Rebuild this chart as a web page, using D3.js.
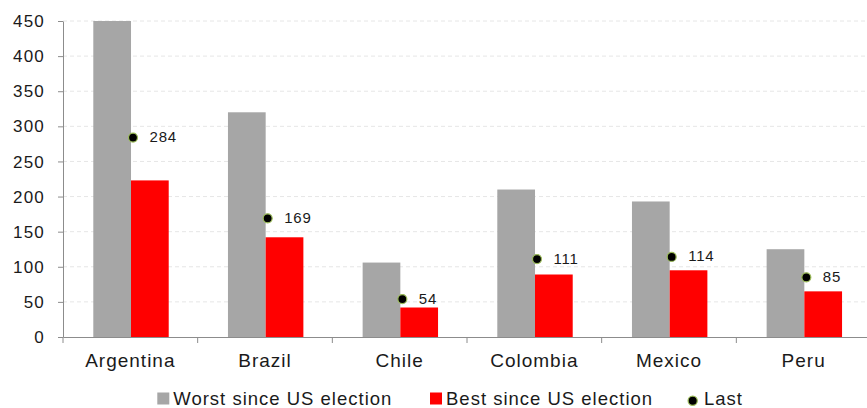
<!DOCTYPE html>
<html><head><meta charset="utf-8">
<script src="https://cdn.jsdelivr.net/npm/d3@7/dist/d3.min.js"></script>
<style>body{margin:0;background:#fff}svg{display:block}text{font-family:"Liberation Sans",Arial,sans-serif;fill:#1a1a1a}</style>
</head><body>
<svg id="c" width="867" height="408"></svg>
<script>
const categories = ["Argentina","Brazil","Chile","Colombia","Mexico","Peru"];
const worst = [450, 320, 106, 210, 193, 125];
const best = [223, 142, 42, 89, 95, 65];
const last = [284, 169, 54, 111, 114, 85];
const yTicks = [0,50,100,150,200,250,300,350,400,450];
const seriesNames = ["Worst since US election","Best since US election","Last"];

(function(){
const svg = d3.select("#c");
const pLeft = 63, pRight = 871, pTop = 21, pBottom = 337;
const x = d3.scaleBand().domain(categories).range([pLeft, pRight]);
const y = d3.scaleLinear().domain([0, 450]).range([pBottom, pTop]);
const bw = x.bandwidth();
const barW = bw * 0.28;
const off = bw * 0.225;
const ff = "'Liberation Sans',Arial,sans-serif";

// gridlines
svg.append("g").selectAll("line").data(yTicks.filter(d=>d>0)).join("line")
  .attr("x1", pLeft).attr("x2", pRight).attr("y1", d=>y(d)).attr("y2", d=>y(d))
  .attr("stroke", "#e6e6e6").attr("stroke-dasharray", "4,3");

// bars
svg.append("g").selectAll("rect").data(categories).join("rect")
  .attr("x", d=>x(d)+off).attr("width", barW)
  .attr("y", (d,i)=>y(worst[i])).attr("height", (d,i)=>pBottom - y(worst[i]))
  .attr("fill", "#a6a6a6");
svg.append("g").selectAll("rect").data(categories).join("rect")
  .attr("x", d=>x(d)+off+barW).attr("width", barW)
  .attr("y", (d,i)=>y(best[i])).attr("height", (d,i)=>pBottom - y(best[i]))
  .attr("fill", "#ff0000");

// y axis
const yAxis = d3.axisLeft(y).tickValues(yTicks).tickSize(5).tickSizeOuter(0);
const ga = svg.append("g").attr("transform", `translate(${pLeft},0)`).call(yAxis);
ga.select(".domain").attr("stroke", "#8c8c8c");
ga.selectAll(".tick line").attr("stroke", "#8c8c8c");
ga.selectAll(".tick text").attr("font-size", 17).attr("x", -18).attr("dy", "0.33em")
  .attr("letter-spacing", 1.2).style("font-family", ff).attr("fill","#1a1a1a");

// x axis
const xAxis = d3.axisBottom(x).tickSize(0);
const gx = svg.append("g").attr("transform", `translate(0,${pBottom})`).call(xAxis);
gx.select(".domain").attr("stroke", "#8c8c8c");
gx.selectAll(".tick text").attr("font-size", 19).attr("dy", 0).attr("y", 29.5)
  .attr("letter-spacing", 1).style("font-family", ff).attr("fill","#1a1a1a");
svg.append("g").selectAll("line").data(categories).join("line")
  .attr("x1", d=>x(d)).attr("x2", d=>x(d)).attr("y1", pBottom).attr("y2", pBottom+6)
  .attr("stroke", "#8c8c8c");

// last points
svg.append("g").selectAll("circle").data(categories).join("circle")
  .attr("cx", d=>x(d)+off+barW+2).attr("cy", (d,i)=>y(last[i])).attr("r", 4.5)
  .attr("fill", "#000").attr("stroke", "#9bbb59").attr("stroke-width", 1.2);
svg.append("g").selectAll("text").data(categories).join("text")
  .attr("x", d=>x(d)+off+barW+18.5).attr("y", (d,i)=>y(last[i])+4.5)
  .attr("font-size", 15).attr("letter-spacing", 0.8).text((d,i)=>last[i]);

// legend
const lg = svg.append("g");
const legendX = [157.3, 430, 688];
lg.append("rect").attr("x", legendX[0]).attr("y", 392.5).attr("width", 12).attr("height", 12).attr("fill", "#a6a6a6");
lg.append("rect").attr("x", legendX[1]).attr("y", 392.5).attr("width", 12).attr("height", 12).attr("fill", "#ff0000");
lg.append("circle").attr("cx", legendX[2]+4.7).attr("cy", 400.7).attr("r", 4.6).attr("fill", "#000").attr("stroke", "#9bbb59").attr("stroke-width", 1.2);
lg.selectAll("text").data(seriesNames).join("text")
  .attr("x", (d,i)=>legendX[i] + (i===2 ? 16 : 16)).attr("y", 405).attr("font-size", 18.5)
  .attr("letter-spacing", 1).text(d=>d);
})();
</script>
</body></html>
